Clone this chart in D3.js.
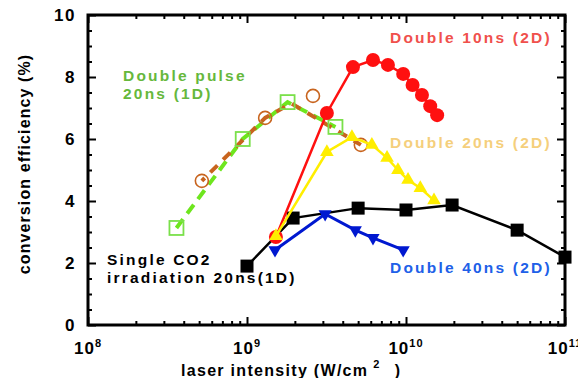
<!DOCTYPE html>
<html>
<head>
<meta charset="utf-8">
<script src="https://cdn.jsdelivr.net/npm/d3@7.9.0/dist/d3.min.js"></script>
<style>
  body { margin: 0; background: #fff; }
  text { font-family: Arial, "Liberation Sans", sans-serif; font-weight: bold; }
</style>
</head>
<body>
<svg id="chart" width="578" height="378"></svg>
<script>
// axis ticks
const decades = [1e8, 1e9, 1e10, 1e11];
const yTicks = [0, 2, 4, 6, 8, 10];

// Single CO2 irradiation 20ns (1D)
const singleX = [1.0e9, 1.95e9, 5.0e9, 1.0e10, 1.95e10, 5.0e10, 1.0e11];
const singleY = [1.9, 3.45, 3.77, 3.71, 3.87, 3.06, 2.19];

// Double 10ns (2D)
const d10X = [1.52e9, 3.18e9, 4.64e9, 6.2e9, 7.7e9, 9.6e9, 1.1e10, 1.26e10, 1.42e10, 1.57e10];
const d10Y = [2.84, 6.84, 8.32, 8.55, 8.39, 8.10, 7.74, 7.42, 7.06, 6.77];

// Double 20ns (2D)
const d20X = [1.52e9, 3.18e9, 4.57e9, 6.1e9, 7.6e9, 8.9e9, 1.03e10, 1.23e10, 1.5e10];
const d20Y = [2.87, 5.58, 6.06, 5.81, 5.39, 5.0, 4.68, 4.42, 4.02];

// Double 40ns (2D)
const d40X = [1.5e9, 3.1e9, 4.8e9, 6.2e9, 9.6e9];
const d40Y = [2.42, 3.58, 3.06, 2.81, 2.42];

// Double pulse 20ns (1D): squares + dashed line
const pulseX = [3.6e8, 9.4e8, 1.8e9, 3.6e9];
const pulseY = [3.13, 6.0, 7.19, 6.39];

// open circles and their dashed trend line
const circX = [5.2e8, 1.3e9, 2.6e9, 5.2e9];
const circY = [4.65, 6.68, 7.39, 5.81];
const fitX = [5.2e8, 1.3e9, 1.9e9, 5.2e9];
const fitY = [4.65, 6.68, 7.15, 5.81];

const svg = d3.select('#chart');
const L = 88, R = 565, T = 15, B = 325;

const x = d3.scaleLog().domain([1e8, 1e11]).range([L, R]);
const y = d3.scaleLinear().domain([0, 10]).range([B, T]);

const zip = (xs, ys) => xs.map((v, i) => [v, ys[i]]);
const line = d3.line().x(d => x(d[0])).y(d => y(d[1]));

// ---- axes (ticks pointing inward on all four sides)
const minorX = x.ticks().filter(v => !decades.includes(v));
const minorY = d3.range(0, 10.01, 0.5).filter(v => !yTicks.includes(v));

function axisSet(gen, pos, values, size) {
  svg.append('g')
    .attr('transform', pos)
    .call(gen.tickValues(values).tickSize(size).tickFormat(''))
    .call(g => g.select('.domain').remove())
    .call(g => g.selectAll('line').attr('stroke', '#000').attr('stroke-width', 2));
}
axisSet(d3.axisBottom(x), `translate(0,${B})`, minorX, -4);
axisSet(d3.axisBottom(x), `translate(0,${B})`, decades, -8);
axisSet(d3.axisTop(x), `translate(0,${T})`, minorX, -4);
axisSet(d3.axisTop(x), `translate(0,${T})`, decades, -8);
axisSet(d3.axisLeft(y), `translate(${L},0)`, minorY, -4);
axisSet(d3.axisLeft(y), `translate(${L},0)`, yTicks, -8);
axisSet(d3.axisRight(y), `translate(${R},0)`, minorY, -4);
axisSet(d3.axisRight(y), `translate(${R},0)`, yTicks, -8);

svg.append('rect')
  .attr('x', L).attr('y', T).attr('width', R - L).attr('height', B - T)
  .attr('fill', 'none').attr('stroke', '#000').attr('stroke-width', 3);

// y tick labels
svg.append('g').selectAll('text').data(yTicks).join('text')
  .attr('x', L - 12).attr('y', d => y(d)).attr('dy', '0.36em')
  .attr('text-anchor', 'end').attr('font-size', 17).attr('letter-spacing', 1.5)
  .text(d => d);

// x tick labels 10^n (the last one runs past the right edge, as in the original)
const xl = svg.append('g').selectAll('text').data(decades).join('text')
  .attr('x', d => x(d)).attr('y', 354)
  .attr('text-anchor', 'middle').attr('font-size', 17).attr('letter-spacing', 1);
xl.append('tspan').text('10');
xl.append('tspan').attr('font-size', 11).attr('dy', -7).text(d => Math.round(Math.log10(d)));

// axis titles
const xt = svg.append('text').attr('x', 181).attr('y', 376)
  .attr('font-size', 16).attr('letter-spacing', 1.3);
xt.append('tspan').text('laser intensity (W/cm');
xt.append('tspan').attr('font-size', 11).attr('dx', 5).attr('dy', -8).text('2');
xt.append('tspan').attr('dx', 14).attr('dy', 8).text(')');

svg.append('text')
  .attr('transform', 'translate(30,164) rotate(-90)')
  .attr('text-anchor', 'middle').attr('font-size', 16).attr('letter-spacing', 1.1)
  .text('conversion efficiency (%)');

// ---- series
const plot = svg.append('g');

// dashed green line (double pulse 1D) and orange dashed trend
plot.append('path').datum(zip(pulseX, pulseY)).attr('d', line)
  .attr('fill', 'none').attr('stroke', '#6ee61e').attr('stroke-width', 4)
  .attr('stroke-dasharray', '11 7');
plot.append('path').datum(zip(fitX, fitY)).attr('d', line)
  .attr('fill', 'none').attr('stroke', '#c8641e').attr('stroke-width', 4)
  .attr('stroke-dasharray', '10 8').attr('stroke-dashoffset', 6);

plot.selectAll('.sq').data(zip(pulseX, pulseY)).join('rect')
  .attr('x', d => x(d[0]) - 7).attr('y', d => y(d[1]) - 7)
  .attr('width', 14).attr('height', 14)
  .attr('fill', 'none').attr('stroke', '#7ae04a').attr('stroke-width', 1.8);
plot.selectAll('.oc').data(zip(circX, circY)).join('circle')
  .attr('cx', d => x(d[0])).attr('cy', d => y(d[1])).attr('r', 6.5)
  .attr('fill', 'none').attr('stroke', '#c8641e').attr('stroke-width', 1.6);

// black: single CO2
plot.append('path').datum(zip(singleX, singleY)).attr('d', line)
  .attr('fill', 'none').attr('stroke', '#000').attr('stroke-width', 2.5);
plot.selectAll('.bs').data(zip(singleX, singleY)).join('rect')
  .attr('x', d => x(d[0]) - 6.5).attr('y', d => y(d[1]) - 6.5)
  .attr('width', 13).attr('height', 13).attr('fill', '#000');

// blue: double 40ns
plot.append('path').datum(zip(d40X, d40Y)).attr('d', line)
  .attr('fill', 'none').attr('stroke', '#0018d0').attr('stroke-width', 3);
const triDown = d3.symbol().type(d3.symbolTriangle).size(75);
plot.selectAll('.bt').data(zip(d40X, d40Y)).join('path')
  .attr('d', triDown)
  .attr('transform', d => `translate(${x(d[0])},${y(d[1])}) rotate(180)`)
  .attr('fill', '#0018d0');

// red: double 10ns
plot.append('path').datum(zip(d10X, d10Y)).attr('d', line)
  .attr('fill', 'none').attr('stroke', '#ff1010').attr('stroke-width', 2.5);
plot.selectAll('.rc').data(zip(d10X, d10Y)).join('circle')
  .attr('cx', d => x(d[0])).attr('cy', d => y(d[1])).attr('r', 7)
  .attr('fill', '#ff1010');

// yellow: double 20ns
plot.append('path').datum(zip(d20X, d20Y)).attr('d', line)
  .attr('fill', 'none').attr('stroke', '#ffee00').attr('stroke-width', 2.5);
const triUp = d3.symbol().type(d3.symbolTriangle).size(80);
plot.selectAll('.yt').data(zip(d20X, d20Y)).join('path')
  .attr('d', triUp)
  .attr('transform', d => `translate(${x(d[0])},${y(d[1])})`)
  .attr('fill', '#ffee00');

// ---- annotations
const notes = [
  { t: ['Double pulse', '20ns (1D)'], x: 123, y: 81, c: '#66b83c' },
  { t: ['Double 10ns (2D)'], x: 390, y: 43, c: '#f0504c' },
  { t: ['Double 20ns (2D)'], x: 390, y: 148, c: '#f5cf7c' },
  { t: ['Double 40ns (2D)'], x: 390, y: 273, c: '#2060e8' },
  { t: ['Single CO2', 'irradiation 20ns(1D)'], x: 107, y: 265, c: '#000' }
];
notes.forEach(n => {
  const tx = svg.append('text').attr('x', n.x).attr('y', n.y)
    .attr('font-size', 15.5).attr('letter-spacing', 2.2).attr('fill', n.c);
  n.t.forEach((s, i) => tx.append('tspan').attr('x', n.x).attr('dy', i ? 18 : 0).text(s));
});
</script>
</body>
</html>
